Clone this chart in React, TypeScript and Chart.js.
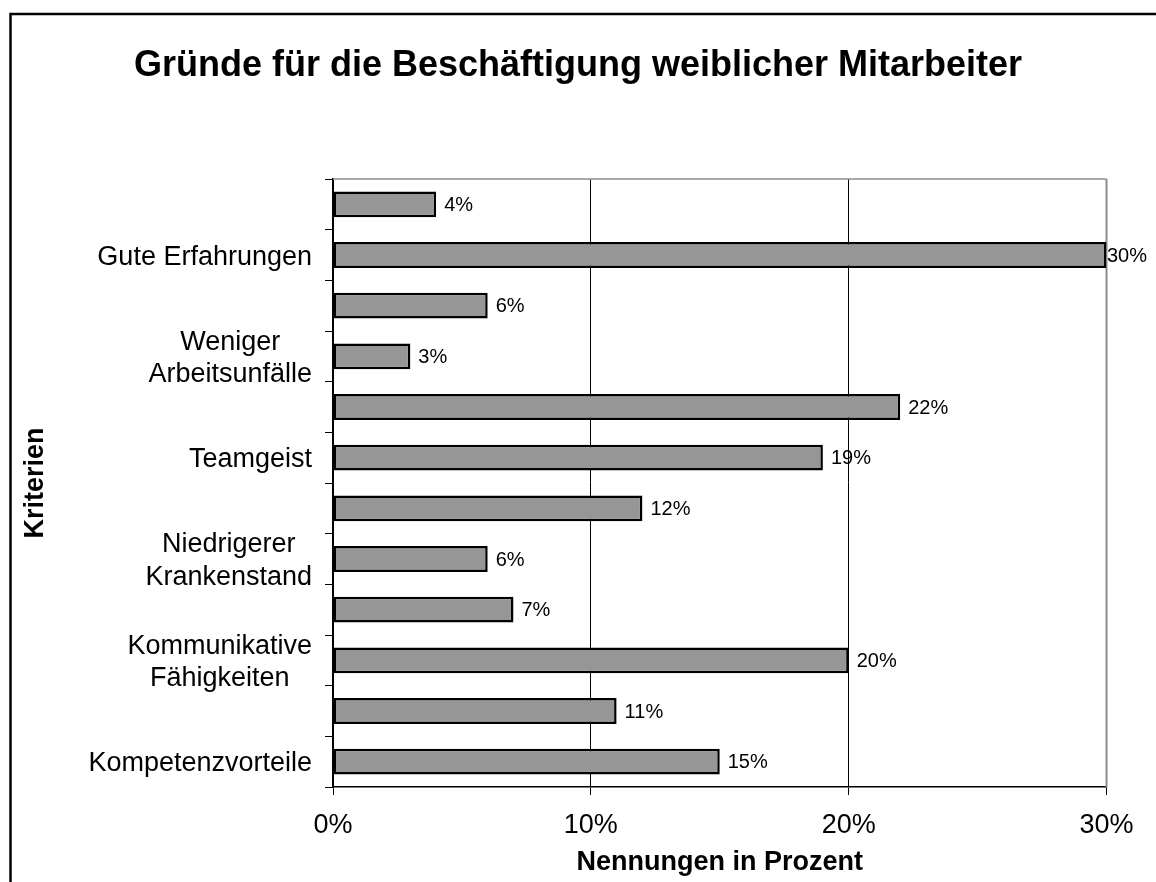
import React, { useEffect, useRef } from "react";
import { Chart, registerables } from "chart.js";

Chart.register(...registerables);

const chartTitle = "Gründe für die Beschäftigung weiblicher Mitarbeiter";
const xAxisTitle = "Nennungen in Prozent";
const yAxisTitle = "Kriterien";

// top to bottom; empty strings are categories whose labels are skipped in the original
const categories: (string | string[])[] = [
  "",
  "Gute Erfahrungen",
  "",
  ["Weniger", "Arbeitsunfälle"],
  "",
  "Teamgeist",
  "",
  ["Niedrigerer", "Krankenstand"],
  "",
  ["Kommunikative", "Fähigkeiten"],
  "",
  "Kompetenzvorteile",
];
const values = [4, 30, 6, 3, 22, 19, 12, 6, 7, 20, 11, 15];
const xTicks = [0, 10, 20, 30];

const W = 1156;
const H = 882;
const FONT = "Arial, 'Liberation Sans', sans-serif";

const decorPlugin = {
  id: "decor",
  beforeDraw(chart: any) {
    const ctx = chart.ctx;
    ctx.save();
    ctx.fillStyle = "#ffffff";
    ctx.fillRect(0, 0, W, H);
    ctx.strokeStyle = "#000000";
    ctx.lineWidth = 2.5;
    ctx.beginPath();
    ctx.moveTo(10.5, H + 2);
    ctx.lineTo(10.5, 14);
    ctx.lineTo(W + 2, 14);
    ctx.stroke();
    ctx.restore();
  },
  beforeDatasetsDraw(chart: any) {
    const ctx = chart.ctx;
    const a = chart.chartArea;
    ctx.save();
    ctx.strokeStyle = "#8c8c8c";
    ctx.lineWidth = 1.5;
    ctx.beginPath();
    ctx.moveTo(a.left, a.top);
    ctx.lineTo(a.right, a.top);
    ctx.stroke();
    ctx.lineWidth = 2;
    ctx.beginPath();
    ctx.moveTo(a.right, a.top);
    ctx.lineTo(a.right, a.bottom);
    ctx.stroke();
    ctx.restore();
  },
  afterDatasetsDraw(chart: any) {
    const ctx = chart.ctx;
    const meta = chart.getDatasetMeta(0);
    ctx.save();
    ctx.font = `20px ${FONT}`;
    ctx.fillStyle = "#000000";
    ctx.textAlign = "left";
    ctx.textBaseline = "middle";
    meta.data.forEach((el: any, i: number) => {
      const txt = `${values[i]}%`;
      const w = ctx.measureText(txt).width;
      const x = Math.min(el.x + 8, W - 9 - w);
      ctx.fillText(txt, x, el.y + 1);
    });
    ctx.restore();
  },
  afterDraw(chart: any) {
    const ctx = chart.ctx;
    const a = chart.chartArea;
    const yScale = chart.scales.y;
    ctx.save();
    ctx.fillStyle = "#000000";
    // title
    ctx.font = `bold 36px ${FONT}`;
    ctx.textAlign = "center";
    ctx.textBaseline = "alphabetic";
    ctx.fillText(chartTitle, W / 2, 76);
    // x axis title
    ctx.font = `bold 27px ${FONT}`;
    ctx.fillText(xAxisTitle, (a.left + a.right) / 2, 870);
    // y axis title
    ctx.save();
    ctx.translate(43, (a.top + a.bottom) / 2);
    ctx.rotate(-Math.PI / 2);
    ctx.fillText(yAxisTitle, 0, 0);
    ctx.restore();
    // y category labels
    ctx.font = `27px ${FONT}`;
    ctx.textAlign = "center";
    const size = 27;
    const lh = 32.5;
    const rightEdge = 312;
    categories.forEach((lab, i) => {
      const lines = Array.isArray(lab) ? lab : [lab];
      if (lines.length === 1 && lines[0] === "") return;
      const maxW = Math.max(...lines.map((l) => ctx.measureText(l).width));
      const cx = rightEdge - maxW / 2;
      const cy = yScale.getPixelForTick(i);
      const n = lines.length;
      lines.forEach((l, k) => {
        const base = cy + (k - (n - 1) / 2) * lh + 0.358 * size;
        ctx.fillText(l, cx, base);
      });
    });
    ctx.restore();
  },
};

export default function App() {
  const ref = useRef<HTMLCanvasElement | null>(null);
  useEffect(() => {
    if (!ref.current) return;
    const chart = new Chart(ref.current, {
      type: "bar",
      data: {
        labels: categories as any,
        datasets: [
          {
            data: values,
            backgroundColor: "#969696",
            borderColor: "#000000",
            borderWidth: 2.5,
            borderSkipped: false,
            barPercentage: 0.51,
            categoryPercentage: 1,
          },
        ],
      },
      options: {
        indexAxis: "y",
        animation: false,
        responsive: false,
        devicePixelRatio: 1,
        layout: { padding: { top: 179, right: 49.5, bottom: 0, left: 0 } },
        plugins: {
          legend: { display: false },
          tooltip: { enabled: false },
          title: { display: false },
        },
        scales: {
          x: {
            type: "linear",
            min: 0,
            max: 30,
            afterBuildTicks: (scale: any) => {
              scale.ticks = xTicks.map((v) => ({ value: v }));
            },
            afterFit: (scale: any) => {
              scale.height = 95;
            },
            ticks: {
              callback: (v: any) => `${v}%`,
              color: "#000000",
              font: { family: FONT, size: 27 },
              padding: 14,
              maxRotation: 0,
            },
            grid: {
              color: "#000000",
              lineWidth: 1,
              tickLength: 8,
              drawOnChartArea: true,
            },
            border: { display: true, color: "#000000", width: 1.5 },
          },
          y: {
            type: "category",
            afterFit: (scale: any) => {
              scale.width = 333;
            },
            ticks: { display: false },
            grid: {
              color: "#000000",
              lineWidth: 1,
              tickLength: 8,
              drawOnChartArea: false,
              offset: true,
            },
            border: { display: true, color: "#000000", width: 1.5 },
          },
        },
      },
      plugins: [decorPlugin],
    });
    return () => chart.destroy();
  }, []);
  return (
    <div style={{ position: "absolute", left: 0, top: 0, width: W, height: H }}>
      <canvas ref={ref} width={W} height={H} style={{ display: "block", width: W, height: H }} />
    </div>
  );
}
